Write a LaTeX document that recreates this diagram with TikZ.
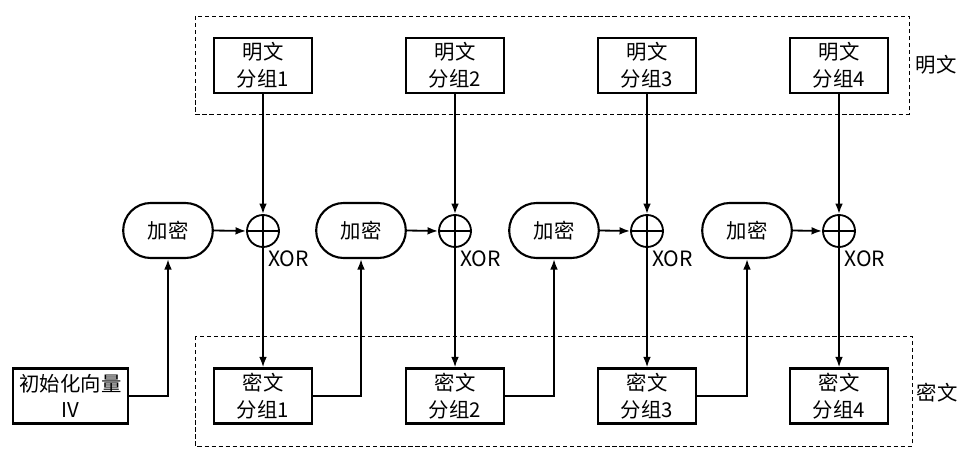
\documentclass[tikz,border=0pt]{standalone}
\usepackage{fontspec}
\setmainfont{Noto Sans CJK SC}
\usetikzlibrary{arrows.meta,positioning,shapes.misc}

\begin{document}
\begin{tikzpicture}[x=0.025cm,y=-0.025cm,font=\fontsize{14.5}{19}\selectfont,
  blk/.style={draw,line width=1.5pt,align=center,minimum width=2.45cm,minimum height=1.375cm,inner sep=1pt},
  enc/.style={draw,line width=1.5pt,rounded rectangle,minimum width=2.475cm,minimum height=1.375cm},
  xor/.style={draw,line width=1.3pt,circle,minimum size=0.8cm,inner sep=0pt},
  arr/.style={-{Latex[length=7.5pt,width=5.5pt]},line width=1.3pt},
  grp/.style={draw,line width=0.6pt,dash pattern=on 3pt off 2pt},
  lbl/.style={font=\fontsize{15}{17}\selectfont,inner sep=0pt}]
  \useasboundingbox (0,0) rectangle (965,452);
  % dashed groups
  \draw[grp] (195,16) rectangle (909,114);
  \draw[grp] (195,336) rectangle (912,446);
  \node[lbl,font=\fontsize{14.5}{16}\selectfont] (ptag) at (936,65) {明文};
  \node[lbl,font=\fontsize{14.5}{16}\selectfont] (ctag) at (937,393) {密文};
  % plaintext blocks
  \node[blk] (p1) at (263,65.5) {明文\\分组1};
  \node[blk] (p2) at (455,65.5) {明文\\分组2};
  \node[blk] (p3) at (647,65.5) {明文\\分组3};
  \node[blk] (p4) at (839,65.5) {明文\\分组4};
  % encryption
  \node[enc] (e1) at (168,230.5) {加密};
  \node[enc] (e2) at (361,230.5) {加密};
  \node[enc] (e3) at (554,230.5) {加密};
  \node[enc] (e4) at (747,230.5) {加密};
  % xor
  \node[xor] (x1) at (263,231) {};
  \node[xor] (x2) at (455,231) {};
  \node[xor] (x3) at (647,231) {};
  \node[xor] (x4) at (839,231) {};
  \draw[line width=1.3pt] (x1.north) -- (x1.south) (x1.west) -- (x1.east);
  \draw[line width=1.3pt] (x2.north) -- (x2.south) (x2.west) -- (x2.east);
  \draw[line width=1.3pt] (x3.north) -- (x3.south) (x3.west) -- (x3.east);
  \draw[line width=1.3pt] (x4.north) -- (x4.south) (x4.west) -- (x4.east);
  \node[lbl,anchor=west] (l1) at (268,259) {XOR};
  \node[lbl,anchor=west] (l2) at (460,259) {XOR};
  \node[lbl,anchor=west] (l3) at (652,259) {XOR};
  \node[lbl,anchor=west] (l4) at (844,259) {XOR};
  % ciphertext blocks
  \node[blk,minimum width=2.875cm] (iv) at (70.5,396) {初始化向量\\IV};
  \node[blk] (c1) at (263,396) {密文\\分组1};
  \node[blk] (c2) at (455,396) {密文\\分组2};
  \node[blk] (c3) at (647,396) {密文\\分组3};
  \node[blk] (c4) at (839,396) {密文\\分组4};
  % connectors
  \draw[arr] (p1.south) -- (x1.north);
  \draw[arr] (p2.south) -- (x2.north);
  \draw[arr] (p3.south) -- (x3.north);
  \draw[arr] (p4.south) -- (x4.north);
  \draw[arr] (e1.east) -- (x1.west);
  \draw[arr] (e2.east) -- (x2.west);
  \draw[arr] (e3.east) -- (x3.west);
  \draw[arr] (e4.east) -- (x4.west);
  \draw[arr] (x1.south) -- (c1.north);
  \draw[arr] (x2.south) -- (c2.north);
  \draw[arr] (x3.south) -- (c3.north);
  \draw[arr] (x4.south) -- (c4.north);
  \draw[arr] (iv.east) -| (e1.south);
  \draw[arr] (c1.east) -| (e2.south);
  \draw[arr] (c2.east) -| (e3.south);
  \draw[arr] (c3.east) -| (e4.south);
\end{tikzpicture}
\end{document}
